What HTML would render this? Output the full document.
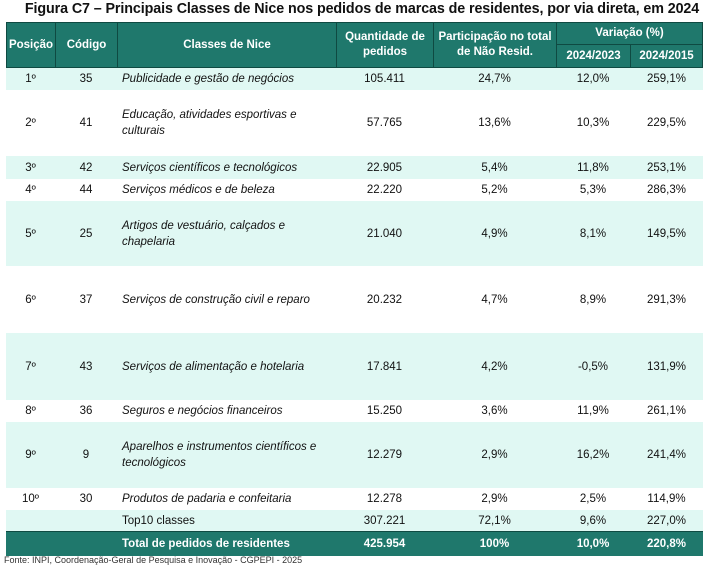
<!DOCTYPE html><html><head><meta charset="utf-8"><style>
body{margin:0;width:708px;height:560px;background:#fff;font-family:"Liberation Sans",sans-serif;position:relative;overflow:hidden;color:#111}
.a{position:absolute;box-sizing:border-box}
.t{position:absolute;left:8px;top:1px;width:708px;text-align:center;font-weight:bold;font-size:14.3px;letter-spacing:-0.1px}
.h{background:#1f786c;color:#fff;font-weight:bold;font-size:11.5px;display:flex;align-items:center;justify-content:center;text-align:center;border:1px solid #0f4a42;line-height:15px}
.r{position:absolute;left:6px;width:697px;font-size:11.5px}
.c{position:absolute;top:0;height:100%;display:flex;align-items:center;justify-content:center;text-align:center}
.n{position:absolute;top:0;height:100%;display:flex;align-items:center;left:111px;width:216px;padding-left:5px;font-style:italic;line-height:16px;box-sizing:border-box}
.l{background:#e0f8f3}
</style></head><body>
<div class="t">Figura C7 – Principais Classes de Nice nos pedidos de marcas de residentes, por via direta, em 2024</div>
<div class="a h" style="left:6px;top:22px;width:50px;height:46px">Posição</div>
<div class="a h" style="left:55px;top:22px;width:63px;height:46px">Código</div>
<div class="a h" style="left:117px;top:22px;width:220px;height:46px">Classes de Nice</div>
<div class="a h" style="left:336px;top:22px;width:98px;height:46px">Quantidade de<br>pedidos</div>
<div class="a h" style="left:433px;top:22px;width:124px;height:46px">Participação no total<br>de Não Resid.</div>
<div class="a h" style="left:556px;top:22px;width:147px;height:23px">Variação (%)</div>
<div class="a h" style="left:556px;top:44px;width:75px;height:24px">2024/2023</div>
<div class="a h" style="left:630px;top:44px;width:73px;height:24px">2024/2015</div>
<div id="rows"></div>
<script>
var d=[[68,90,"1º","35","Publicidade e gestão de negócios","105.411","24,7%","12,0%","259,1%"],
[90,156,"2º","41","Educação, atividades esportivas e culturais","57.765","13,6%","10,3%","229,5%"],
[156,179,"3º","42","Serviços científicos e tecnológicos","22.905","5,4%","11,8%","253,1%"],
[179,201,"4º","44","Serviços médicos e de beleza","22.220","5,2%","5,3%","286,3%"],
[201,266,"5º","25","Artigos de vestuário, calçados e chapelaria","21.040","4,9%","8,1%","149,5%"],
[266,333,"6º","37","Serviços de construção civil e reparo","20.232","4,7%","8,9%","291,3%"],
[333,400,"7º","43","Serviços de alimentação e hotelaria","17.841","4,2%","-0,5%","131,9%"],
[400,422,"8º","36","Seguros e negócios financeiros","15.250","3,6%","11,9%","261,1%"],
[422,488,"9º","9","Aparelhos e instrumentos científicos e tecnológicos","12.279","2,9%","16,2%","241,4%"],
[488,510,"10º","30","Produtos de padaria e confeitaria","12.278","2,9%","2,5%","114,9%"],
[510,531,"","","Top10 classes","307.221","72,1%","9,6%","227,0%"]];
var cols=[[0,49],[49,62],null,[330,97],[427,123],[550,74],[624,73]];
var h="";
d.forEach(function(r,i){
h+='<div class="r'+(i%2==0?' l':'')+'" style="top:'+r[0]+'px;height:'+(r[1]-r[0])+'px">';
h+='<div class="c" style="left:0;width:49px">'+r[2]+'</div><div class="c" style="left:49px;width:62px">'+r[3]+'</div>';
h+='<div class="n"'+(i==10?' style="font-style:normal"':'')+'>'+r[4]+'</div>';
for(var k=5;k<9;k++){var c=cols[k-2];h+='<div class="c" style="left:'+c[0]+'px;width:'+c[1]+'px">'+r[k]+'</div>';}
h+='</div>';});
h+='<div class="r" style="top:531px;height:24px;background:#1f786c;color:#fff;font-weight:bold;border-top:1px solid #0f4a42"><div class="n" style="font-style:normal">Total de pedidos de residentes</div>';
var t=["425.954","100%","10,0%","220,8%"];
for(var k=0;k<4;k++){var c=cols[k+3];h+='<div class="c" style="left:'+c[0]+'px;width:'+c[1]+'px">'+t[k]+'</div>';}
h+='</div>';
document.getElementById("rows").innerHTML=h;
</script>
<div class="a" style="left:4px;top:555px;font-size:9px;color:#333">Fonte: INPI, Coordenação-Geral de Pesquisa e Inovação - CGPEPI - 2025</div>
</body></html>
